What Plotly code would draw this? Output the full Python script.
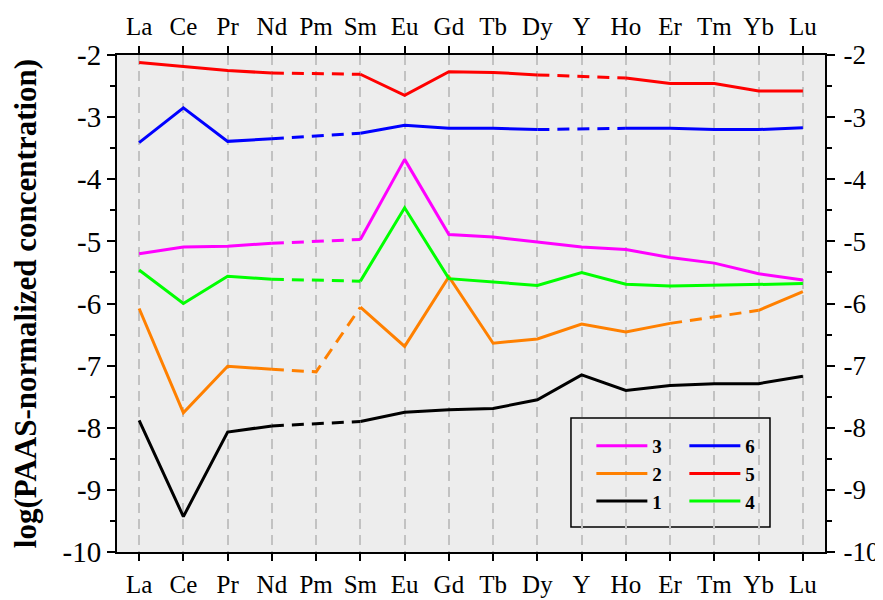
import plotly.graph_objects as go

elements = ["La", "Ce", "Pr", "Nd", "Pm", "Sm", "Eu", "Gd", "Tb", "Dy", "Y", "Ho", "Er", "Tm", "Yb", "Lu"]

s1 = [-7.88, -9.43, -8.07, -7.97, None, -7.90, -7.75, -7.71, -7.69, -7.55, -7.15, -7.40, -7.32, -7.29, -7.29, -7.17]
s2 = [-6.08, -7.76, -7.01, -7.06, -7.10, -6.06, -6.69, -5.57, -6.64, -6.57, -6.33, -6.46, -6.32, None, -6.11, -5.81]
s3 = [-5.20, -5.09, -5.08, -5.03, None, -4.97, -3.68, -4.89, -4.93, -5.01, -5.09, -5.13, -5.26, -5.35, -5.52, -5.62]
s4 = [-5.46, -6.00, -5.56, -5.61, None, -5.64, -4.46, -5.60, -5.66, -5.71, -5.50, -5.69, -5.72, -5.71, -5.69, -5.68]
s5 = [-2.12, -2.18, -2.25, -2.29, None, -2.31, -2.65, -2.27, -2.28, -2.32, None, -2.37, -2.46, -2.46, -2.58, -2.58]
s6 = [-3.41, -2.85, -3.39, -3.35, None, -3.26, -3.13, -3.18, -3.18, -3.20, None, -3.18, -3.18, -3.20, -3.20, -3.17]

y_ticks = [-10, -9, -8, -7, -6, -5, -4, -3, -2]
y_ticktext = ["-10", "-9", "-8", "-7", "-6", "-5", "-4", "-3", "-2"]

# elements whose value is an estimate (drawn with dashed segments)
estimated = {"2": ["Pm"]}

series_names = ["3", "2", "1", "6", "5", "4"]
series_values = {"1": s1, "2": s2, "3": s3, "4": s4, "5": s5, "6": s6}
colors = {"1": "#000000", "2": "#FF8000", "3": "#FF00FF", "4": "#00FF00", "5": "#FF0000", "6": "#0000FF"}
legend_column = {"3": "a", "2": "a", "1": "a", "6": "b", "5": "b", "4": "b"}

SERIF = "Liberation Serif"
LW = 3

fig = go.Figure()

for name in series_names:
    vals = series_values[name]
    est = set(estimated.get(name, []))
    solid = [None if (v is None or elements[i] in est) else v for i, v in enumerate(vals)]
    fig.add_trace(go.Scatter(
        x=elements, y=solid, mode="lines", name=name,
        line=dict(color=colors[name], width=LW),
        connectgaps=False, legendgroup=legend_column[name], hoverinfo="skip"))
    # dashed bridges over missing / estimated elements
    dx, dy = [], []
    for i in range(1, len(elements) - 1):
        if vals[i] is None or elements[i] in est:
            xs = [elements[i - 1]]
            ys = [vals[i - 1]]
            if vals[i] is not None:
                xs.append(elements[i]); ys.append(vals[i])
            xs.append(elements[i + 1]); ys.append(vals[i + 1])
            dx += xs + [None]
            dy += ys + [None]
    if dx:
        fig.add_trace(go.Scatter(
            x=dx, y=dy, mode="lines", showlegend=False,
            line=dict(color=colors[name], width=LW, dash="12px,8px"),
            connectgaps=False, hoverinfo="skip"))

# invisible trace to carry the top / right axes
fig.add_trace(go.Scatter(x=elements, y=s3, xaxis="x2", yaxis="y2", mode="lines",
                         line=dict(width=0), opacity=0, showlegend=False, hoverinfo="skip"))

xcommon = dict(type="category", categoryorder="array", categoryarray=elements,
               range=[-0.5, 15.5], showline=True, linecolor="black", linewidth=2,
               ticks="outside", ticklen=7, tickwidth=1.5, tickcolor="black", automargin=False,
               tickfont=dict(family=SERIF, size=25, color="black"), zeroline=False)
ycommon = dict(range=[-10, -2], tickmode="array", tickvals=y_ticks, ticktext=y_ticktext,
               showline=True, linecolor="black", linewidth=2, automargin=False,
               ticks="outside", ticklen=8, tickwidth=1.5, tickcolor="black",
               minor=dict(tickmode="linear", tick0=-10, dtick=0.5, ticks="outside", ticklen=5,
                          tickwidth=1.5, tickcolor="black"),
               zeroline=False, showgrid=False)

fig.update_layout(
    # the page body adds an 8px offset, so the figure is sized to sit inside the 883x600 window
    width=875, height=592,
    margin=dict(l=109, r=58, t=47, b=48, pad=0, autoexpand=False),
    paper_bgcolor="white", plot_bgcolor="#EDEDED",
    xaxis=dict(**xcommon, showgrid=True, gridcolor="#C2C2C2", gridwidth=1.5, griddash="10px,6px",
               ticklabelstandoff=2),
    xaxis2=dict(**xcommon, overlaying="x", side="top", showgrid=False, matches="x",
                ticklabelstandoff=1),
    yaxis=dict(**ycommon, tickfont=dict(family=SERIF, size=29, color="black"),
               title=dict(text="log(PAAS-normalized concentration)",
                          font=dict(family=SERIF, size=31, color="black", weight="bold"),
                          standoff=21)),
    yaxis2=dict(**ycommon, tickfont=dict(family=SERIF, size=27, color="black"),
                overlaying="y", side="right", ticklabelstandoff=3),
    legend=dict(orientation="h", traceorder="grouped", x=0.670, y=0.2518,
                xanchor="left", yanchor="top", bgcolor="rgba(0,0,0,0)", borderwidth=0,
                font=dict(family=SERIF, size=19, color="black", weight="bold"),
                itemwidth=51, entrywidth=27, entrywidthmode="pixels", tracegroupgap=0),
    shapes=[dict(type="rect", xref="paper", yref="paper", x0=0.6412, x1=0.9223, y0=0.0503, y1=0.2696,
                 line=dict(color="black", width=1.5), fillcolor="#EDEDED", layer="below")],
    showlegend=True,
)

fig.write_html("out.html")
